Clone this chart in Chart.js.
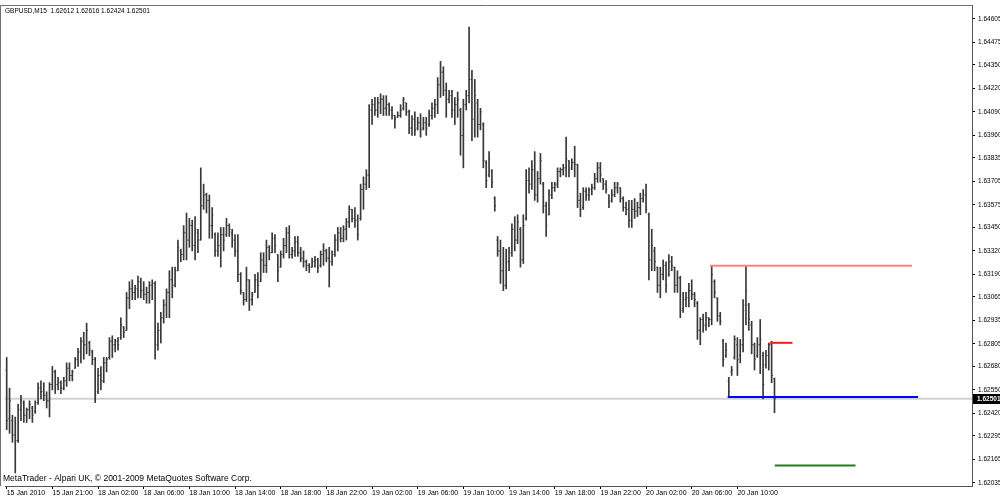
<!DOCTYPE html>
<html>
<head>
<meta charset="utf-8">
<script src="https://cdn.jsdelivr.net/npm/chart.js@4.4.1/dist/chart.umd.min.js"></script>
<style>
  html, body { margin: 0; padding: 0; background: #fff; }
  canvas { display: block; }
</style>
</head>
<body>
<canvas id="chart" width="1000" height="497"></canvas>
<script>
const symbol = "GBPUSD,M15";
const footer = "MetaTrader - Alpari UK, \u00A9 2001-2009 MetaQuotes Software Corp.";

// M15 bars, 15 Jan 17:00 .. 20 Jan 13:15
const opens = [
  1.6266,1.6239,1.6238,1.6230,1.6227,1.6244,1.6248,1.6241,1.6244,1.6245,
  1.6243,1.6248,1.6256,1.6254,1.6252,1.6249,1.6258,1.6265,1.6258,1.6259,
  1.6256,1.6260,1.6267,1.6263,1.6267,1.6272,1.6276,1.6282,1.6280,1.6281,
  1.6276,1.6272,1.6254,1.6263,1.6260,1.6270,1.6273,1.6282,1.6280,1.6282,
  1.6284,1.6290,1.6288,1.6306,1.6311,1.6309,1.6311,1.6315,1.6310,1.6308,
  1.6309,1.6313,1.6314,1.6280,1.6288,1.6295,1.6302,1.6309,1.6316,1.6313,
  1.6321,1.6332,1.6330,1.6342,1.6338,1.6346,1.6335,1.6342,1.6338,1.6357,
  1.6363,1.6360,1.6346,1.6341,1.6332,1.6335,1.6341,1.6341,1.6346,1.6342,
  1.6338,1.6332,1.6319,1.6309,1.6305,1.6316,1.6305,1.6309,1.6316,1.6315,
  1.6327,1.6324,1.6334,1.6331,1.6339,1.6330,1.6323,1.6330,1.6335,1.6342,
  1.6330,1.6332,1.6337,1.6331,1.6328,1.6326,1.6324,1.6323,1.6326,1.6327,
  1.6324,1.6330,1.6332,1.6328,1.6326,1.6330,1.6338,1.6342,1.6339,1.6344,
  1.6348,1.6355,1.6350,1.6349,1.6350,1.6366,1.6369,1.6374,1.6410,1.6413,
  1.6410,1.6414,1.6416,1.6411,1.6413,1.6410,1.6407,1.6406,1.6407,1.6411,
  1.6414,1.6409,1.6400,1.6405,1.6400,1.6403,1.6400,1.6403,1.6402,1.6407,
  1.6411,1.6413,1.6424,1.6431,1.6421,1.6416,1.6418,1.6410,1.6413,1.6410,
  1.6396,1.6413,1.6418,1.6427,1.6405,1.6414,1.6402,1.6402,1.6381,1.6374,
  1.6376,1.6361,1.6338,1.6332,1.6321,1.6313,1.6326,1.6331,1.6344,1.6338,
  1.6344,1.6327,1.6350,1.6371,1.6369,1.6377,1.6363,1.6372,1.6369,1.6357,
  1.6352,1.6363,1.6367,1.6369,1.6376,1.6377,1.6378,1.6382,1.6378,1.6381,
  1.6380,1.6360,1.6356,1.6365,1.6363,1.6366,1.6367,1.6372,1.6378,1.6372,
  1.6369,1.6363,1.6360,1.6363,1.6367,1.6367,1.6361,1.6356,1.6355,1.6349,
  1.6355,1.6354,1.6356,1.6361,1.6363,1.6352,1.6327,1.6332,1.6323,1.6313,
  1.6319,1.6324,1.6319,1.6326,1.6323,1.6313,1.6317,1.6300,1.6305,1.6306,
  1.6310,1.6308,1.6303,1.6288,1.6294,1.6291,1.6295,1.6294,1.6315,1.6306,
  1.6296,1.6282,1.6274,1.6260,1.6265,1.6273,1.6280,1.6274,1.6280,1.6302,
  1.6302,1.6291,1.6280,1.6274,1.6280,1.6274,1.6269,1.6274,1.6280,1.62612
];
const highs = [
  1.6273,1.6256,1.6241,1.6240,1.6247,1.6252,1.6249,1.6245,1.6249,1.6246,
  1.6249,1.6259,1.6260,1.6259,1.6254,1.6259,1.6268,1.6266,1.6262,1.6260,
  1.6262,1.6270,1.6270,1.6266,1.6273,1.6278,1.6284,1.6287,1.6292,1.6282,
  1.6277,1.6273,1.6267,1.6268,1.6273,1.6273,1.6284,1.6285,1.6283,1.6284,
  1.6295,1.6290,1.6309,1.6315,1.6316,1.6313,1.6318,1.6317,1.6315,1.6312,
  1.6315,1.6316,1.6315,1.6292,1.6298,1.6305,1.6311,1.6321,1.6323,1.6323,
  1.6338,1.6333,1.6346,1.6353,1.6350,1.6349,1.6351,1.6344,1.6378,1.6369,
  1.6364,1.6363,1.6356,1.6342,1.6342,1.6345,1.6345,1.6350,1.6347,1.6344,
  1.6341,1.6341,1.6320,1.6309,1.6323,1.6316,1.6309,1.6319,1.6320,1.6331,
  1.6331,1.6338,1.6335,1.6342,1.6341,1.6330,1.6332,1.6339,1.6345,1.6346,
  1.6334,1.6340,1.6340,1.6334,1.6332,1.6327,1.6325,1.6328,1.6329,1.6328,
  1.6332,1.6336,1.6333,1.6334,1.6332,1.6341,1.6345,1.6345,1.6346,1.6350,
  1.6357,1.6355,1.6356,1.6352,1.6369,1.6373,1.6377,1.6413,1.6416,1.6417,
  1.6417,1.6419,1.6418,1.6418,1.6414,1.6412,1.6407,1.6409,1.6413,1.6417,
  1.6414,1.6410,1.6407,1.6409,1.6406,1.6408,1.6406,1.6406,1.6410,1.6414,
  1.6416,1.6428,1.6437,1.6434,1.6425,1.6421,1.6421,1.6417,1.6420,1.6411,
  1.6416,1.6421,1.6456,1.6432,1.6427,1.6416,1.6411,1.6403,1.6382,1.6387,
  1.6377,1.6362,1.6340,1.6338,1.6334,1.6333,1.6334,1.6347,1.6351,1.6352,
  1.6345,1.6352,1.6377,1.6378,1.6382,1.6387,1.6376,1.6386,1.6370,1.6359,
  1.6366,1.6370,1.6370,1.6378,1.6378,1.6380,1.6395,1.6382,1.6383,1.6390,
  1.6380,1.6364,1.6367,1.6367,1.6367,1.6369,1.6375,1.6381,1.6381,1.6372,
  1.6371,1.6363,1.6366,1.6370,1.6370,1.6367,1.6362,1.6359,1.6360,1.6360,
  1.6361,1.6359,1.6364,1.6366,1.6369,1.6353,1.6344,1.6334,1.6323,1.6323,
  1.6327,1.6326,1.6330,1.6329,1.6323,1.6321,1.6318,1.6309,1.6309,1.6314,
  1.6316,1.6309,1.6304,1.6295,1.6297,1.6298,1.6295,1.6324,1.6316,1.6306,
  1.6298,1.6283,1.6281,1.6262,1.6268,1.6285,1.6284,1.6283,1.6305,1.6324,
  1.6303,1.6293,1.6281,1.6284,1.6294,1.6276,1.6277,1.6281,1.6282,1.62616
];
const lows = [
  1.6233,1.6231,1.6226,1.6209,1.6226,1.6238,1.6237,1.6237,1.6239,1.6237,
  1.6242,1.6247,1.6250,1.6249,1.6245,1.6240,1.6255,1.6253,1.6255,1.6253,
  1.6255,1.6257,1.6260,1.6260,1.6267,1.6268,1.6270,1.6272,1.6275,1.6274,
  1.6269,1.6248,1.6253,1.6255,1.6259,1.6265,1.6272,1.6273,1.6276,1.6277,
  1.6283,1.6284,1.6288,1.6300,1.6305,1.6305,1.6306,1.6306,1.6305,1.6303,
  1.6303,1.6305,1.6272,1.6277,1.6281,1.6292,1.6295,1.6295,1.6306,1.6312,
  1.6321,1.6326,1.6327,1.6327,1.6334,1.6332,1.6327,1.6331,1.6338,1.6355,
  1.6353,1.6339,1.6339,1.6329,1.6329,1.6323,1.6332,1.6340,1.6340,1.6334,
  1.6329,1.6315,1.6308,1.6302,1.6304,1.6299,1.6302,1.6309,1.6306,1.6315,
  1.6320,1.6320,1.6327,1.6331,1.6331,1.6315,1.6323,1.6328,1.6331,1.6328,
  1.6328,1.6329,1.6329,1.6326,1.6323,1.6321,1.6320,1.6323,1.6323,1.6320,
  1.6323,1.6324,1.6326,1.6312,1.6324,1.6329,1.6332,1.6337,1.6337,1.6338,
  1.6345,1.6348,1.6345,1.6338,1.6349,1.6355,1.6366,1.6367,1.6402,1.6407,
  1.6406,1.6408,1.6407,1.6407,1.6407,1.6405,1.6400,1.6406,1.6406,1.6410,
  1.6407,1.6397,1.6396,1.6396,1.6399,1.6395,1.6399,1.6396,1.6401,1.6405,
  1.6406,1.6408,1.6417,1.6418,1.6406,1.6414,1.6406,1.6402,1.6406,1.6385,
  1.6378,1.6410,1.6414,1.6393,1.6395,1.6395,1.6399,1.6378,1.6367,1.6373,
  1.6367,1.6354,1.6329,1.6314,1.6310,1.6311,1.6321,1.6329,1.6332,1.6336,
  1.6323,1.6325,1.6349,1.6364,1.6366,1.6360,1.6359,1.6369,1.6353,1.6340,
  1.6352,1.6361,1.6365,1.6367,1.6373,1.6374,1.6373,1.6373,1.6377,1.6373,
  1.6356,1.6351,1.6355,1.6360,1.6360,1.6363,1.6366,1.6370,1.6370,1.6366,
  1.6364,1.6356,1.6359,1.6362,1.6364,1.6359,1.6354,1.6352,1.6345,1.6345,
  1.6350,1.6351,1.6352,1.6359,1.6353,1.6316,1.6321,1.6321,1.6309,1.6306,
  1.6316,1.6309,1.6318,1.6321,1.6309,1.6309,1.6295,1.6298,1.6301,1.6301,
  1.6305,1.6301,1.6283,1.6280,1.6287,1.6288,1.6290,1.6291,1.6306,1.6293,
  1.6291,1.6268,1.6273,1.6251,1.6263,1.6272,1.6263,1.6270,1.6276,1.6291,
  1.6288,1.6275,1.6266,1.6273,1.6264,1.6250,1.6267,1.6266,1.6259,1.62424
];
const closes = [
  1.6238,1.6249,1.6230,1.6227,1.6244,1.6249,1.6241,1.6244,1.6247,1.6241,
  1.6248,1.6256,1.6254,1.6252,1.6249,1.6258,1.6265,1.6258,1.6259,1.6256,
  1.6260,1.6267,1.6263,1.6265,1.6272,1.6276,1.6282,1.6280,1.6288,1.6277,
  1.6272,1.6252,1.6263,1.6260,1.6270,1.6272,1.6282,1.6280,1.6282,1.6280,
  1.6291,1.6287,1.6306,1.6311,1.6309,1.6311,1.6315,1.6310,1.6308,1.6309,
  1.6313,1.6314,1.6280,1.6288,1.6295,1.6302,1.6309,1.6316,1.6313,1.6321,
  1.6334,1.6330,1.6342,1.6338,1.6346,1.6335,1.6344,1.6338,1.6357,1.6363,
  1.6360,1.6346,1.6352,1.6332,1.6335,1.6341,1.6338,1.6346,1.6344,1.6338,
  1.6332,1.6319,1.6310,1.6305,1.6316,1.6305,1.6308,1.6316,1.6313,1.6327,
  1.6324,1.6334,1.6331,1.6339,1.6335,1.6321,1.6330,1.6335,1.6342,1.6330,
  1.6332,1.6337,1.6331,1.6328,1.6326,1.6324,1.6323,1.6326,1.6327,1.6323,
  1.6330,1.6332,1.6328,1.6326,1.6330,1.6338,1.6342,1.6339,1.6344,1.6348,
  1.6355,1.6350,1.6349,1.6341,1.6366,1.6369,1.6374,1.6410,1.6413,1.6410,
  1.6414,1.6416,1.6411,1.6413,1.6410,1.6407,1.6405,1.6407,1.6410,1.6416,
  1.6409,1.6400,1.6405,1.6399,1.6403,1.6399,1.6403,1.6400,1.6407,1.6411,
  1.6413,1.6424,1.6431,1.6421,1.6416,1.6418,1.6410,1.6413,1.6416,1.6396,
  1.6413,1.6418,1.6427,1.6405,1.6418,1.6402,1.6409,1.6382,1.6371,1.6383,
  1.6370,1.6357,1.6332,1.6321,1.6313,1.6326,1.6331,1.6344,1.6338,1.6348,
  1.6327,1.6346,1.6371,1.6369,1.6377,1.6363,1.6372,1.6382,1.6357,1.6346,
  1.6363,1.6367,1.6369,1.6376,1.6377,1.6378,1.6383,1.6377,1.6381,1.6380,
  1.6360,1.6355,1.6365,1.6363,1.6366,1.6367,1.6372,1.6378,1.6374,1.6369,
  1.6366,1.6359,1.6363,1.6367,1.6369,1.6361,1.6356,1.6355,1.6349,1.6355,
  1.6354,1.6356,1.6361,1.6363,1.6355,1.6327,1.6335,1.6326,1.6313,1.6319,
  1.6324,1.6313,1.6326,1.6324,1.6313,1.6317,1.6299,1.6305,1.6306,1.6310,
  1.6308,1.6305,1.6288,1.6294,1.6291,1.6295,1.6294,1.6319,1.6309,1.6296,
  1.6293,1.6272,1.6277,1.6254,1.6266,1.6283,1.6272,1.6280,1.6299,1.6310,
  1.6294,1.6280,1.6272,1.6280,1.6283,1.6258,1.6274,1.6280,1.6263,1.62501
];

// time axis labels every 16 bars (4 hours)
const timeTickBars = [0, 16, 32, 48, 64, 80, 96, 112, 128, 144, 160, 176, 192, 208, 224, 240, 256];
const timeTickLabels = ["15 Jan 2010", "15 Jan 21:00", "18 Jan 02:00", "18 Jan 06:00", "18 Jan 10:00",
  "18 Jan 14:00", "18 Jan 18:00", "18 Jan 22:00", "19 Jan 02:00", "19 Jan 06:00", "19 Jan 10:00",
  "19 Jan 14:00", "19 Jan 18:00", "19 Jan 22:00", "20 Jan 02:00", "20 Jan 06:00", "20 Jan 10:00"];

const priceTicks = [1.64605, 1.64475, 1.64350, 1.64220, 1.64090, 1.63960, 1.63835, 1.63705, 1.63575,
  1.63450, 1.63320, 1.63190, 1.63065, 1.62935, 1.62805, 1.62680, 1.62550, 1.62420, 1.62295, 1.62165, 1.62035];
const bidPrice = 1.62501;

// horizontal objects drawn on the chart (price, from bar, to bar)
const levelPrices = [1.63238, 1.62511, 1.62811, 1.62132];
const levelFrom = [246.4, 252.6, 267.4, 269.1];
const levelTo = [317.2, 319.3, 275.3, 297.4];
const levelColors = ["#ff8282", "#0000ff", "#ff1a1a", "#1f7d1f"];

const X_MIN = -0.593, X_MAX = 338.2;
const Y_MIN = 1.62018, Y_MAX = 1.64682;

const n = highs.length;
const last = n - 1;
const title = symbol + "  " + [opens[last], highs[last], lows[last], closes[last]].map(v => v.toFixed(5)).join(" ");

const FONT = "Liberation Sans";
Chart.defaults.font.family = FONT;

const datasets = [];

datasets.push({
    type: "line",
    data: [{ x: X_MIN, y: bidPrice }, { x: X_MAX, y: bidPrice }],
    borderColor: "#d2d2d2",
    borderWidth: 2,
    pointRadius: 0,
    order: 10
});

datasets.push({
    type: "bar",
    data: highs.map((h, i) => ({ x: i, y: [lows[i], h] })),
    backgroundColor: "#383838",
    barThickness: 1,
    borderWidth: 0,
    grouped: false,
    order: 3
});

datasets.push({
    type: "line",
    showLine: false,
    data: opens.map((o, i) => ({ x: i, y: o })),
    pointStyle: "dash",
    pointRadius: 1.2,
    pointRotation: 180,
    pointBorderColor: "#383838",
    pointBorderWidth: 1,
    order: 2
});

datasets.push({
    type: "line",
    showLine: false,
    data: closes.map((c, i) => ({ x: i, y: c })),
    pointStyle: "dash",
    pointRadius: 1.2,
    pointRotation: 0,
    pointBorderColor: "#383838",
    pointBorderWidth: 1,
    order: 2
});

levelPrices.forEach((p, k) => {
    datasets.push({
        type: "line",
        data: [{ x: levelFrom[k], y: p }, { x: levelTo[k], y: p }],
        borderColor: levelColors[k],
        borderWidth: 2,
        pointRadius: 0,
        order: 1
    });
});

const chromePlugin = {
    id: "mtChrome",
    beforeDraw(chart) {
        const ctx = chart.ctx;
        ctx.save();
        ctx.fillStyle = "#fff";
        ctx.fillRect(0, 0, chart.width, chart.height);
        ctx.restore();
    },
    afterDraw(chart) {
        const { ctx, chartArea: a, scales } = chart;
        ctx.save();
        // frame
        ctx.strokeStyle = "#707070";
        ctx.lineWidth = 1;
        ctx.beginPath();
        ctx.moveTo(0.5, a.bottom);
        ctx.lineTo(0.5, a.top + 0.5);
        ctx.lineTo(a.right, a.top + 0.5);
        ctx.stroke();

        ctx.fillStyle = "#000";
        ctx.textBaseline = "middle";
        ctx.textAlign = "left";
        ctx.font = "6.5px '" + FONT + "'";
        ctx.fillText(title, 5, 11);
        ctx.font = "8.5px '" + FONT + "'";
        ctx.fillText(footer, 3, 479);

        // current bid label on the price axis
        const y = Math.round(scales.y.getPixelForValue(bidPrice));
        ctx.fillStyle = "#000";
        ctx.fillRect(a.right + 1, y - 5, chart.width - a.right - 1, 10);
        ctx.fillStyle = "#fff";
        ctx.font = "bold 6.5px '" + FONT + "'";
        ctx.fillText(bidPrice.toFixed(5), a.right + 5, y + 0.5);
        ctx.restore();
    }
};

new Chart(document.getElementById("chart"), {
    type: "bar",
    data: { datasets: datasets },
    plugins: [chromePlugin],
    options: {
        responsive: false,
        devicePixelRatio: 1,
        animation: false,
        events: [],
        layout: { padding: { left: 1, top: 5, right: 0, bottom: 0 } },
        plugins: {
            legend: { display: false },
            tooltip: { enabled: false },
            title: { display: false }
        },
        scales: {
            x: {
                type: "linear",
                position: "bottom",
                min: X_MIN,
                max: X_MAX,
                offset: false,
                grid: { drawOnChartArea: false, drawTicks: true, tickLength: 3, color: "#000", offset: false },
                border: { display: true, color: "#555" },
                ticks: {
                    autoSkip: false,
                    maxRotation: 0,
                    align: "start",
                    padding: 0,
                    color: "#000",
                    font: { size: 7 },
                    callback: (v, i) => timeTickLabels[i]
                },
                afterBuildTicks: s => { s.ticks = timeTickBars.map(v => ({ value: v })); },
                afterFit: s => { s.height = 11; s.paddingLeft = 0; s.paddingRight = 0; }
            },
            y: {
                type: "linear",
                position: "right",
                min: Y_MIN,
                max: Y_MAX,
                grid: { drawOnChartArea: false, drawTicks: true, tickLength: 3, color: "#000" },
                border: { display: true, color: "#555" },
                ticks: {
                    autoSkip: false,
                    padding: 3,
                    color: "#000",
                    font: { size: 6.5 },
                    callback: (v, i) => priceTicks[i].toFixed(5)
                },
                afterBuildTicks: s => { s.ticks = priceTicks.map(v => ({ value: v })); },
                afterFit: s => { s.width = 28; s.paddingTop = 0; s.paddingBottom = 0; }
            }
        }
    }
});
</script>
</body>
</html>
